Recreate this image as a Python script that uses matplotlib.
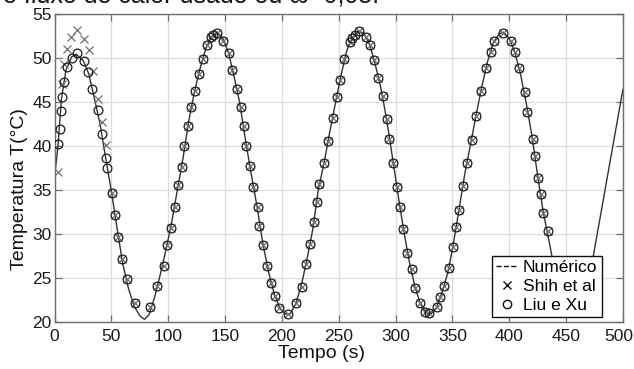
import matplotlib
matplotlib.use('Agg')
from matplotlib import pyplot as plt
from matplotlib.lines import Line2D
from matplotlib.transforms import ScaledTranslation

plt.rcParams['font.family'] = ['Liberation Sans', 'DejaVu Sans']

# Liu e Xu (circles)
liu_t = [3.3, 4.8, 5.6, 6.2, 8.3, 10.6, 15.0, 20.0, 25.9, 29.7, 33.2, 37.9, 41.7, 45.0, 45.8,
         50.2, 53.1, 56.1, 59.0, 63.4, 70.7, 83.9, 90.4, 96.5, 99.1, 102.4, 105.9, 108.3, 111.8,
         114.1, 117.1, 120.0, 123.5, 127.0, 130.8, 133.8, 137.3, 139.6, 142.6, 147.9, 153.7, 156.1,
         160.2, 163.7, 166.6, 168.4, 171.9, 174.8, 178.7, 180.1, 183.6, 186.6, 190.4, 193.9, 197.4,
         205.1, 212.1, 217.9, 221.2, 224.7, 228.2, 230.6, 232.6, 237.3, 240.8, 244.7, 248.2, 251.1,
         254.9, 259.9, 261.9, 264.3, 267.8, 273.9, 277.5, 281.3, 284.8, 288.6, 292.2, 294.4, 298.0,
         300.9, 303.9, 306.8, 310.3, 314.2, 317.1, 321.5, 325.9, 329.6, 336.1, 339.0, 342.6, 347.2,
         350.5, 353.4, 355.8, 359.0, 363.2, 366.9, 370.7, 374.9, 379.3, 383.7, 386.6, 394.2, 401.2,
         405.0, 408.8, 413.8, 415.9, 420.6, 422.6, 425.0, 427.6, 429.9, 433.8]
liu_T = [40.2, 41.9, 44.0, 45.5, 47.2, 48.9, 50.0, 50.5, 49.6, 48.4, 46.5, 44.1, 41.3, 38.6, 37.5,
         34.7, 32.1, 29.7, 27.1, 24.9, 22.2, 21.7, 24.1, 26.4, 28.7, 30.7, 33.1, 35.5, 37.6,
         40.0, 42.2, 44.4, 46.25, 48.1, 49.9, 51.4, 52.4, 52.6, 52.8, 51.9, 50.5, 48.6,
         46.5, 44.4, 42.2, 40.0, 37.7, 35.3, 33.0, 30.9, 28.7, 26.4, 24.4, 22.9, 21.6,
         20.9, 22.1, 24.0, 26.6, 28.8, 31.3, 33.6, 35.7, 38.0, 40.6, 43.2, 45.5, 47.5,
         49.8, 51.75, 52.2, 52.6, 53.0, 52.4, 51.4, 49.7, 47.7, 45.6, 43.0, 40.8, 38.1,
         35.3, 33.1, 30.5, 27.8, 26.0, 23.9, 22.2, 21.1, 21.0, 21.7, 22.8, 24.1, 26.1,
         28.55, 30.8, 32.7, 35.45, 38.0, 40.7, 43.4, 46.2, 48.8, 50.7, 51.9, 52.8, 51.9,
         50.6, 48.8, 46.1, 43.8, 40.8, 38.8, 36.4, 34.5, 32.4, 30.3]

# Shih et al (x) - differs in the first wave, coincides with Liu e Xu afterwards
shih_t_early = [2.7, 6.2, 8.5, 10.6, 14.4, 20.0, 25.9, 30.3, 33.5, 37.9, 41.4, 45.2]
shih_T_early = [37.0, 47.0, 49.3, 51.0, 52.3, 53.1, 52.1, 50.9, 48.5, 45.3, 42.7, 40.1]
shih_t = shih_t_early + liu_t[15:]
shih_T = shih_T_early + liu_T[15:]

# Numerico (line)
num_t = [0, 3, 6, 10, 15, 19, 25, 30, 35, 40, 45, 50, 55, 60, 65, 70, 75, 79, 83, 88, 93, 98,
         103, 108, 113, 118, 123, 128, 133, 138, 143, 148, 153, 158, 163, 168, 173, 178, 183,
         188, 193, 198, 203, 207, 212, 217, 222, 227, 232, 237, 242, 247, 252, 257, 262, 267,
         272, 277, 282, 287, 292, 297, 302, 307, 312, 317, 322, 327, 331, 336, 341, 346, 351,
         356, 361, 366, 371, 376, 381, 386, 391, 395, 400, 405, 410, 415, 420, 425, 430, 435,
         440, 447, 455, 465, 500]
num_T = [36.5, 40.0, 45.3, 48.6, 50.1, 50.4, 49.7, 48.2, 45.4, 42.5, 38.6, 34.8, 30.6, 26.6,
         23.8, 21.8, 20.7, 20.3, 20.8, 22.8, 25.4, 28.2, 31.3, 35.0, 38.6, 42.8, 46.1, 48.8,
         51.0, 52.4, 52.9, 52.2, 50.6, 47.8, 44.8, 40.6, 36.8, 33.2, 29.1, 25.8, 23.3, 21.6,
         20.9, 20.9, 22.0, 24.1, 27.1, 30.4, 35.0, 38.0, 41.5, 44.8, 48.0, 50.8, 52.3, 53.0,
         52.8, 51.6, 49.3, 46.6, 43.1, 38.9, 34.6, 30.5, 26.9, 24.0, 22.0, 21.0, 20.9, 21.6,
         23.4, 25.6, 29.0, 32.9, 36.9, 40.2, 43.6, 46.8, 49.6, 51.7, 52.7, 52.9, 52.2, 50.6,
         48.1, 44.8, 41.1, 36.6, 32.4, 29.2, 25.8, 22.5, 21.1, 21.0, 46.4]

xticks = [0, 50, 100, 150, 200, 250, 300, 350, 400, 450, 500]
yticks = [20, 25, 30, 35, 40, 45, 50, 55]

fig = plt.figure(figsize=(6.34, 3.69), dpi=100)
ax = fig.add_axes([0.0861, 0.1274, 0.8964, 0.8355])

ax.plot(num_t, num_T, color='#333333', lw=1.0, zorder=2)
ax.plot(shih_t, shih_T, ls='none', marker='x', ms=5.5, mew=0.9, color='#707070', zorder=3)
ax.plot(liu_t, liu_T, ls='none', marker='o', ms=6.3, mew=0.9, mfc='none', mec='#1a1a1a', zorder=4)

ax.set_xlim(0, 500)
ax.set_ylim(20, 55)
ax.set_xticks(xticks)
ax.set_yticks(yticks)
ax.grid(True, color='#dcdcdc', lw=0.9)
ax.set_axisbelow(True)
for s in ax.spines.values():
    s.set_color('#6e6e6e')
    s.set_linewidth(1.0)
ax.tick_params(direction='in', length=5, width=0.9, color='#6e6e6e', top=True, right=True,
               labelsize=12.5, labelcolor='#1a1a1a')
ax.tick_params(axis='y', pad=2)
ax.tick_params(axis='x', pad=5)
# keep the last x label inside the picture
last = ax.get_xticklabels()[-1]
last.set_transform(last.get_transform() + ScaledTranslation(-4 / 100, 0, fig.dpi_scale_trans))

ax.set_xlabel('Tempo (s)', fontsize=14, color='#111111')
ax.set_ylabel('Temperatura T(°C)', fontsize=14, color='#111111')
ax.xaxis.set_label_coords(0.47, -0.075)
ax.yaxis.set_label_coords(-0.046, 0.43)

handles = [Line2D([], [], color='#111111', ls='--', lw=1.0),
           Line2D([], [], color='#111111', ls='none', marker='x', ms=6, mew=1.0),
           Line2D([], [], color='#111111', ls='none', marker='o', ms=6, mew=1.0, mfc='none')]
leg = ax.legend(handles, ['Numérico', 'Shih et al', 'Liu e Xu'], loc='lower right',
                bbox_to_anchor=(0.963, 0.016), fontsize=12.5, frameon=True, fancybox=False,
                framealpha=1, edgecolor='#111111', handlelength=1.2, handletextpad=0.35,
                borderpad=0.25, labelspacing=0.2, borderaxespad=0)
leg.get_frame().set_linewidth(1.0)

# caption line of the page, cut off at the top
fig.text(0.005, 0.993, 'e fluxo de calor usado ou ω=0,05.', fontsize=18,
         va='baseline', color='#111111')

fig.savefig('out.png', dpi=100)
